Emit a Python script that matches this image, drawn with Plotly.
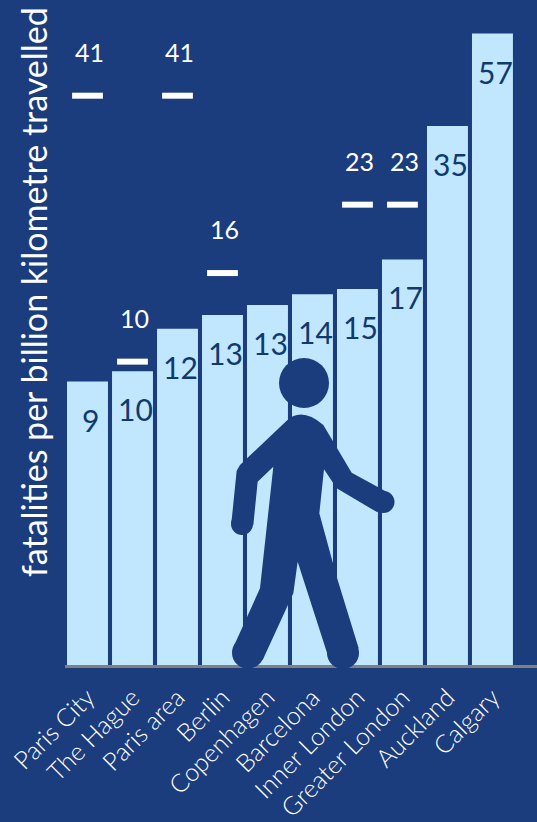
import math
import plotly.graph_objects as go

# ---- data ----
cities = ["Paris City", "The Hague", "Paris area", "Berlin", "Copenhagen",
          "Barcelona", "Inner London", "Greater London", "Auckland", "Calgary"]
bar_values = [9, 9.5, 11.9, 12.8, 13.5, 14.3, 14.7, 17.2, 34.9, 57]
bar_labels = ["9", "10", "12", "13", "13", "14", "15", "17", "35", "57"]
dash_cities = ["Paris City", "The Hague", "Paris area", "Berlin", "Inner London", "Greater London"]
dash_values = [41, 10, 41, 16, 23, 23]
axis_title = "fatalities per billion kilometre travelled"

# ---- style ----
W, H = 537, 822
L, B = 65, 157
BG = "#1B3C7D"
BAR = "#C1E7FF"
DARK = "#0F3A6F"
FONT_LIGHT = "Lato Light, Lato"
FONT_N = "Lato"
plot_w, plot_h = W - L, H - B
y0 = math.log10(2)
y1 = y0 + plot_h / 434


def px(x):
    return (x - L) / plot_w


def py(y):
    return (H - B - y) / plot_h


def z(x, y):
    """walking-figure outline point, measured on the picture"""
    return f"{px(220 + x / 3):.5f},{py(350 + y / 3):.5f}"


def circle(cx, cy, r):
    return dict(type="circle", xref="paper", yref="paper",
                x0=px(cx - r), x1=px(cx + r), y0=py(cy + r), y1=py(cy - r),
                fillcolor=BG, line=dict(width=0), layer="above")


fig = go.Figure()
fig.add_bar(x=cities, y=bar_values, marker=dict(color=BAR, line=dict(width=0)),
            width=0.91, hoverinfo="skip")
fig.add_scatter(x=dash_cities, y=dash_values, mode="markers", hoverinfo="skip",
                marker=dict(symbol="line-ew", size=22, color="white",
                            line=dict(color="white", width=6)))

ann = []
for c, v, t in zip(cities, bar_values, bar_labels):
    ann.append(dict(x=c, y=math.log10(v), text=t, showarrow=False, xshift=3, yshift=-38,
                    font=dict(family=FONT_N, size=30, color=DARK)))
for c, v in zip(dash_cities, dash_values):
    ann.append(dict(x=c, y=math.log10(v), text=str(v), showarrow=False, xshift=2, yshift=44,
                    font=dict(family=FONT_N, size=25, color="white")))
ann.append(dict(xref="paper", yref="paper", x=px(34), y=py(292), text=axis_title,
                textangle=-90, showarrow=False, xanchor="center", yanchor="middle",
                font=dict(family=FONT_N, size=34, color="white")))

outline = ("M" + z(200, 212) + " Q" + z(245, 170) + " " + z(310, 225) +
           " L" + z(395, 368) + " L" + z(505, 428) + " L" + z(472, 487) +
           " L" + z(350, 415) + " L" + z(312, 358) + " L" + z(298, 490) +
           " L" + z(350, 680) + " L" + z(416, 895) + " L" + z(328, 930) +
           " L" + z(233, 635) + " L" + z(220, 730) + " L" + z(128, 930) +
           " L" + z(43, 885) + " L" + z(120, 715) + " L" + z(160, 350) +
           " L" + z(113, 395) + " L" + z(100, 525) + " L" + z(34, 520) +
           " L" + z(50, 362) + " L" + z(60, 345) + " Z")
shapes = [
    dict(type="path", xref="paper", yref="paper", path=outline,
         fillcolor=BG, line=dict(width=0), layer="above"),
    circle(304, 383, 25),   # head
    circle(383.5, 502, 11),  # front hand
    circle(242, 524, 11),   # rear hand
    circle(248, 652.7, 16),  # rear foot
    circle(343, 653, 16),   # front foot
]

fig.update_layout(
    width=W, height=H, autosize=False,
    paper_bgcolor=BG, plot_bgcolor=BG, showlegend=False,
    margin=dict(l=L, r=0, t=0, b=B, autoexpand=False),
    font=dict(family=FONT_N, color="white"),
    annotations=ann, shapes=shapes,
    xaxis=dict(type="category", categoryorder="array", categoryarray=cities,
               range=[-0.5, 9.99], showgrid=False, zeroline=False, automargin=False,
               showline=True, linecolor="#808080", linewidth=3, ticks="",
               ticklabelstandoff=5, ticklabelshift=0,
               tickangle=-45, tickfont=dict(family=FONT_LIGHT, size=25, color="white")),
    yaxis=dict(type="log", range=[y0, y1], visible=False),
)
fig.write_html("out.html", config={"displayModeBar": False},
               post_script="document.body.style.margin='0';document.body.style.overflow='hidden';")
